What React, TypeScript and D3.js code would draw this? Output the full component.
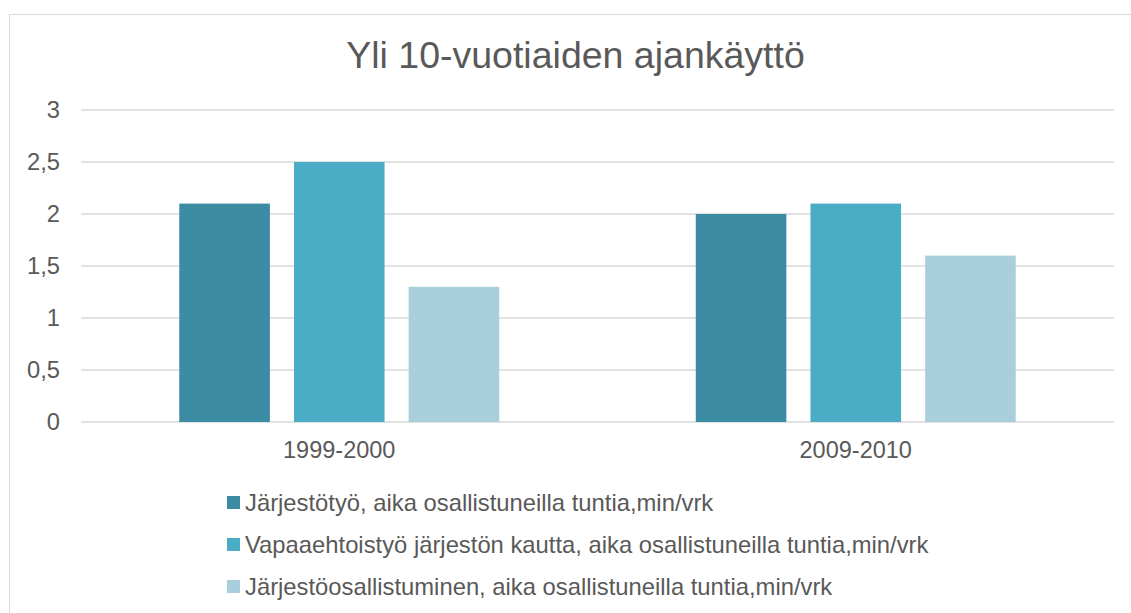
import React from 'react';
import * as d3 from 'd3';

const categories = ['1999-2000', '2009-2010'];
const seriesNames = [
  'Järjestötyö, aika osallistuneilla tuntia,min/vrk',
  'Vapaaehtoistyö järjestön kautta, aika osallistuneilla tuntia,min/vrk',
  'Järjestöosallistuminen, aika osallistuneilla tuntia,min/vrk',
];
const values1999 = [2.1, 2.5, 1.3];
const values2009 = [2.0, 2.1, 1.6];
const yTicks = [0, 0.5, 1, 1.5, 2, 2.5, 3];
const colors = ['#3B8BA2', '#4BACC6', '#A9CFDC'];

const width = 1131;
const height = 613;
const font = 'Liberation Sans, Arial, sans-serif';
const textColor = '#595959';

const App = () => {
  const rows = [values1999, values2009];

  const x0 = d3.scaleBand().domain(categories).range([81, 1114]).paddingInner(0).paddingOuter(0);
  const x1 = d3.scaleBand()
    .domain(seriesNames)
    .range([0, x0.bandwidth()])
    .paddingInner(0.21)
    .paddingOuter(0.857);
  const y = d3.scaleLinear().domain([0, 3]).range([422, 110]);

  const fmt = (v: number) => String(v).replace('.', ',');

  return (
    <svg width={width} height={height} style={{ position: 'absolute', left: 0, top: 0 }}>
      <rect x={9.5} y={14.5} width={1130} height={620} fill="#fff" stroke="#D9D9D9" />
      <text x={575.5} y={68} textAnchor="middle" fontFamily={font} fontSize={37.5} fill={textColor}>
        Yli 10-vuotiaiden ajankäyttö
      </text>
      {yTicks.map(t => (
        <g key={t}>
          <line x1={81} x2={1114} y1={y(t)} y2={y(t)} stroke="#D9D9D9" strokeWidth={1.5} />
          <text x={60} y={y(t)} dy="0.35em" textAnchor="end" fontFamily={font} fontSize={23.7} fill={textColor}>
            {fmt(t)}
          </text>
        </g>
      ))}
      {categories.map((c, ci) => (
        <g key={c} transform={`translate(${x0(c)},0)`}>
          {seriesNames.map((s, si) => (
            <rect
              key={s}
              x={x1(s)}
              y={y(rows[ci][si])}
              width={x1.bandwidth()}
              height={y(0) - y(rows[ci][si])}
              fill={colors[si]}
            />
          ))}
          <text x={x0.bandwidth() / 2} y={458} textAnchor="middle" fontFamily={font} fontSize={23.5} fill={textColor}>
            {c}
          </text>
        </g>
      ))}
      {seriesNames.map((s, i) => (
        <g key={s} transform={`translate(227,${496 + i * 42})`}>
          <rect width={13} height={13} fill={colors[i]} />
          <text x={18} y={6.5} dy="0.35em" fontFamily={font} fontSize={23.8} fill={textColor}>
            {s}
          </text>
        </g>
      ))}
    </svg>
  );
};

export default App;
